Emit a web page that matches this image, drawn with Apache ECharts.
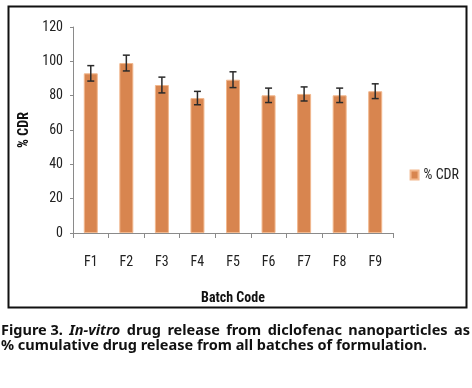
<!DOCTYPE html>
<html><head><meta charset="utf-8">
<script src="https://cdn.jsdelivr.net/npm/echarts@6/dist/echarts.min.js"></script>
<style>html,body{margin:0;padding:0;background:#fff}#c{width:472px;height:388px}</style>
</head><body><div id="c"></div>
<script>
const categories = ['F1','F2','F3','F4','F5','F6','F7','F8','F9'];
const cdrValues = [93.0, 99.0, 86.2, 78.6, 89.3, 80.2, 81.0, 80.2, 82.6];
const cdrErrors = [4.5, 4.6, 4.6, 3.9, 4.6, 4.2, 4.1, 4.2, 4.3];
const yTicks = [0, 20, 40, 60, 80, 100, 120];
const captionLine1 = ['Figure 3.', 'In-vitro', 'drug', 'release', 'from', 'diclofenac', 'nanoparticles', 'as'];
const captionLine2 = '% cumulative drug release from all batches of formulation.';

const axisFont = '"Liberation Sans Narrow", "Roboto Condensed", "Liberation Sans", sans-serif';
const capFont = '"Noto Sans", "Open Sans", sans-serif';

const chart = echarts.init(document.getElementById('c'), null, {renderer: 'canvas'});

// caption sizing and justification
const cv = document.createElement('canvas').getContext('2d');
function w(txt, italic, size) {
  cv.font = (italic ? 'italic ' : '') + 'bold ' + size + 'px ' + capFont;
  return cv.measureText(txt).width;
}
const line2Target = 426;
const capSize = 12 * line2Target / w(captionLine2, false, 12);
const lineLeft = 1, lineRight = 470;
let total = 0;
const widths = captionLine1.map((t, i) => { const ww = w(t, i === 1, capSize); total += ww; return ww; });
const gap = (lineRight - lineLeft - total) / (captionLine1.length - 1);
const capEls = [];
let xx = lineLeft;
captionLine1.forEach((t, i) => {
  capEls.push({type: 'text', left: xx, top: 323, style: {text: t, font: (i === 1 ? 'italic ' : '') + 'bold ' + capSize + 'px ' + capFont, fill: '#111'}});
  xx += widths[i] + gap;
});
capEls.push({type: 'text', left: lineLeft, top: 338, style: {text: captionLine2, font: 'bold ' + capSize + 'px ' + capFont, fill: '#111'}});

chart.setOption({
  animation: false,
  grid: {left: 73, right: 79, top: 27, bottom: 155},
  legend: {
    data: ['% CDR'], right: 8, top: 163, orient: 'vertical',
    itemWidth: 8, itemHeight: 9, itemGap: 6,
    icon: 'rect',
    textStyle: {fontFamily: axisFont, fontSize: 14, color: '#222'}
  },
  xAxis: {
    type: 'category', data: categories,
    name: 'Batch Code', nameLocation: 'middle', nameGap: 58,
    nameTextStyle: {fontFamily: axisFont, fontWeight: 'bold', fontSize: 14, color: '#111'},
    axisLine: {lineStyle: {color: '#8a8a8a', width: 1}},
    axisTick: {show: true, length: 5, lineStyle: {color: '#8a8a8a'}},
    axisLabel: {fontFamily: axisFont, fontSize: 14, color: '#222', margin: 22}
  },
  yAxis: {
    type: 'value', min: 0, max: 120, interval: 20,
    name: '% CDR', nameLocation: 'middle', nameGap: 41, nameRotate: 90,
    nameTextStyle: {fontFamily: axisFont, fontWeight: 'bold', fontSize: 14, color: '#111'},
    axisLine: {show: true, lineStyle: {color: '#8a8a8a', width: 1}},
    axisTick: {show: true, length: 3, lineStyle: {color: '#8a8a8a'}},
    splitLine: {show: false},
    axisLabel: {fontFamily: axisFont, fontSize: 14, color: '#222', margin: 10,
      formatter: v => yTicks.includes(v) ? String(v) : ''}
  },
  series: [
    {
      name: '% CDR', type: 'bar', data: cdrValues, barWidth: 14,
      itemStyle: {color: '#D8854F', borderColor: '#F2B88E', borderWidth: 1}
    },
    {
      name: 'err', type: 'custom', z: 5,
      data: cdrValues.map((v, i) => [i, v - cdrErrors[i], v + cdrErrors[i]]),
      renderItem: function (params, api) {
        const x = api.value(0);
        const lo = api.coord([x, api.value(1)]);
        const hi = api.coord([x, api.value(2)]);
        const hw = 3.5;
        const st = {stroke: '#2a2a2a', lineWidth: 1.5};
        return {type: 'group', children: [
          {type: 'line', shape: {x1: lo[0], y1: lo[1], x2: hi[0], y2: hi[1]}, style: st},
          {type: 'line', shape: {x1: lo[0] - hw, y1: lo[1], x2: lo[0] + hw, y2: lo[1]}, style: st},
          {type: 'line', shape: {x1: hi[0] - hw, y1: hi[1], x2: hi[0] + hw, y2: hi[1]}, style: st}
        ]};
      },
      encode: {x: 0, y: [1, 2]}
    }
  ],
  graphic: [
    {type: 'rect', shape: {x: 8.5, y: 6.5, width: 458, height: 301}, style: {fill: 'none', stroke: '#111', lineWidth: 2}, silent: true}
  ].concat(capEls)
});
</script></body></html>
